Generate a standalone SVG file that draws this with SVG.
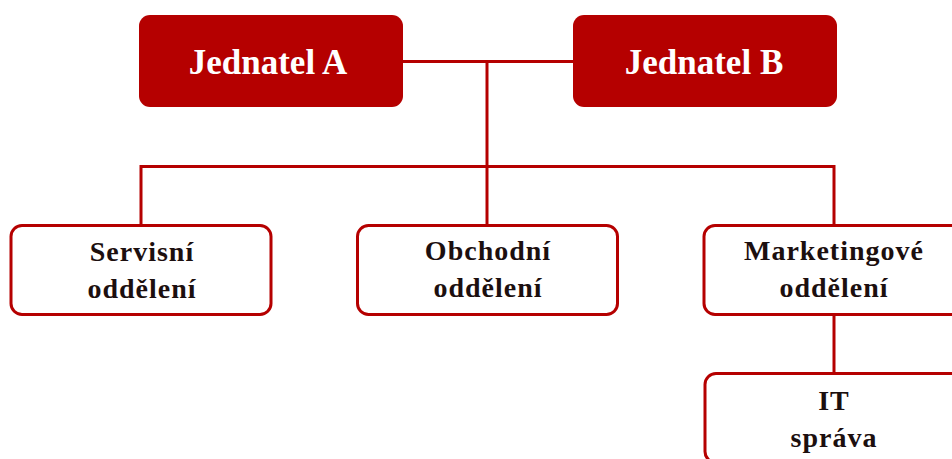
<svg xmlns="http://www.w3.org/2000/svg" width="952" height="459" viewBox="0 0 952 459">
<style>
.top{fill:#b50000;}
.box{fill:#ffffff;stroke:#b50000;stroke-width:3;}
.conn{fill:none;stroke:#b50000;stroke-width:3;}
.tt{font-family:"Liberation Serif","Times New Roman",serif;font-weight:bold;font-size:35px;fill:#ffffff;text-anchor:middle;}
.bt{font-family:"Liberation Serif","Times New Roman",serif;font-weight:bold;font-size:28px;fill:#1c0f0f;text-anchor:middle;letter-spacing:1px;}
</style>
<rect width="952" height="459" fill="#ffffff"/>
<g id="connectors">
<line class="conn" x1="403" y1="61.5" x2="573" y2="61.5"/>
<line class="conn" x1="487" y1="61.5" x2="487" y2="225"/>
<polyline class="conn" points="141,225 141,166.5 834,166.5 834,225"/>
<line class="conn" x1="834" y1="315" x2="834" y2="373"/>
</g>
<g id="jednatel-a">
<rect class="top" x="139" y="15" width="264" height="92" rx="11"/>
<text class="tt" x="268" y="74">Jednatel A</text>
</g>
<g id="jednatel-b">
<rect class="top" x="573" y="15" width="264" height="92" rx="11"/>
<text class="tt" x="704" y="74">Jednatel B</text>
</g>
<g id="servisni">
<rect class="box" x="11" y="225.5" width="260" height="89" rx="11"/>
<text class="bt" x="142" y="261">Servisní</text>
<text class="bt" x="142" y="298">oddělení</text>
</g>
<g id="obchodni">
<rect class="box" x="357.5" y="225.5" width="260" height="89" rx="11"/>
<text class="bt" x="488" y="260">Obchodní</text>
<text class="bt" x="488" y="297">oddělení</text>
</g>
<g id="marketingove">
<rect class="box" x="704" y="225.5" width="260" height="89" rx="11"/>
<text class="bt" x="834" y="260">Marketingové</text>
<text class="bt" x="834" y="297">oddělení</text>
</g>
<g id="it-sprava">
<rect class="box" x="705" y="373.5" width="260" height="89" rx="11"/>
<text class="bt" x="834" y="410">IT</text>
<text class="bt" x="834" y="447">správa</text>
</g>
</svg>
